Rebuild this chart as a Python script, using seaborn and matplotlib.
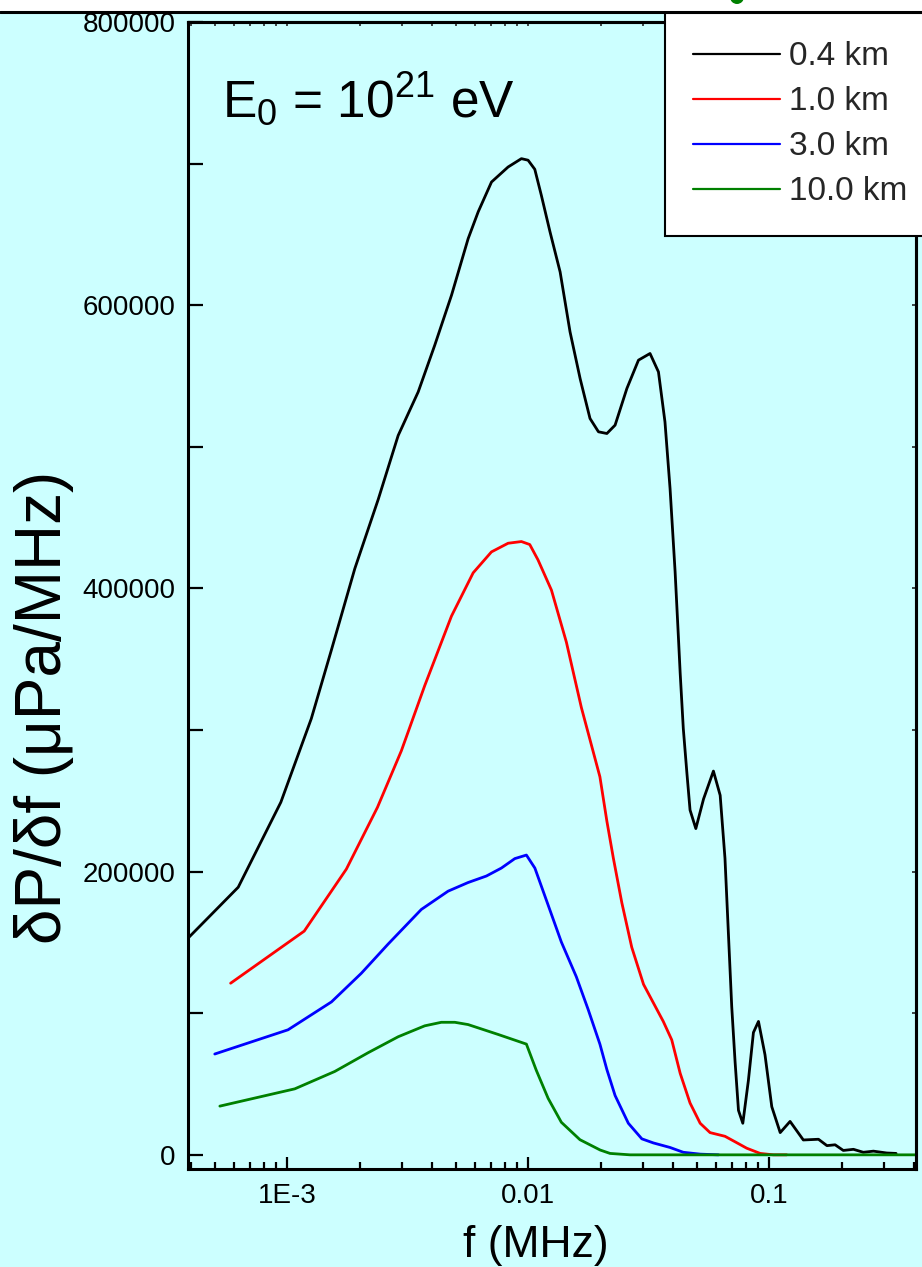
import numpy as np
import pandas as pd
import seaborn as sns
import matplotlib.pyplot as plt
from matplotlib.patches import Rectangle, Ellipse
from matplotlib.lines import Line2D
from matplotlib.ticker import FixedLocator, FixedFormatter, MultipleLocator, NullFormatter

# 0.4 km
f_04 = [3.88e-4, 6.27e-4, 9.42e-4, 1.26e-3, 1.53e-3, 1.91e-3, 2.39e-3, 2.89e-3, 3.50e-3,
        4.10e-3, 4.81e-3, 5.64e-3, 6.21e-3, 7.05e-3, 8.26e-3, 9.38e-3, 0.0100, 0.01066,
        0.01135, 0.01233, 0.01358, 0.01493, 0.01644, 0.01807, 0.01959, 0.02123, 0.02296,
        0.02570, 0.02871, 0.03206, 0.03475, 0.03698, 0.03882, 0.04074, 0.04207, 0.04276,
        0.04406, 0.04560, 0.04699, 0.04966, 0.05346, 0.05875, 0.06266, 0.06561, 0.06776,
        0.06998, 0.07228, 0.07464, 0.07780, 0.08204, 0.08610, 0.09036, 0.09616, 0.1026,
        0.1112, 0.1222, 0.1387, 0.1603, 0.1738, 0.1879, 0.2032, 0.2239, 0.2460, 0.2710,
        0.3076, 0.3365]
p_04 = [153000, 189000, 249000, 308000, 357000, 414000, 463000, 508000, 538800,
        571800, 607000, 647000, 666000, 687000, 697600, 703500, 702400, 696000,
        677600, 651800, 623500, 581200, 548200, 520000, 510600, 509400, 515300,
        541200, 561200, 565900, 552900, 517600, 470600, 411800, 364700, 340300,
        301000, 269600, 243500, 230400, 251300, 271000, 253900, 209400, 157100,
        104700, 65400, 31400, 22300, 52400, 86400, 94200, 70700, 34000,
        15700, 23600, 10500, 11000, 6500, 7100, 3100, 3900, 1800, 2600,
        1300, 1000]

# 1.0 km
f_10 = [5.83e-4, 1.178e-3, 1.762e-3, 2.371e-3, 2.979e-3, 3.724e-3, 4.808e-3, 5.916e-3,
        7.047e-3, 8.26e-3, 9.38e-3, 0.01016, 0.01099, 0.01250, 0.01442, 0.01663, 0.01986,
        0.02123, 0.02259, 0.02449, 0.02692, 0.03013, 0.03311, 0.03639, 0.03945, 0.04276,
        0.04699, 0.05176, 0.05689, 0.06561, 0.07228, 0.08072, 0.09183, 0.1042, 0.1183]
p_10 = [121200, 158000, 201800, 245400, 285300, 331300, 380400, 411000,
        425800, 431900, 433100, 431000, 420200, 398800, 362000, 316000, 267000,
        235600, 209400, 178000, 146600, 120400, 107300, 94200, 81200, 57600,
        36600, 22300, 15700, 13100, 9200, 4700, 1000, 0, 0]

# 3.0 km
f_30 = [5.01e-4, 1.009e-3, 1.528e-3, 2.032e-3, 2.624e-3, 3.606e-3, 4.656e-3, 5.636e-3,
        6.714e-3, 7.745e-3, 8.81e-3, 9.84e-3, 0.01067, 0.01211, 0.01374, 0.01585, 0.01774,
        0.01986, 0.02123, 0.02296, 0.02606, 0.02965, 0.03311, 0.03882, 0.04406, 0.05176, 0.06166]
p_30 = [71200, 88300, 108000, 128200, 148800, 173300, 186200, 192300,
        196900, 202500, 209200, 211700, 202500, 176400, 150300, 125800, 102800,
        78200, 60200, 41900, 22300, 11300, 8400, 5200, 1800, 500, 0]

# 10.0 km
f_100 = [5.26e-4, 1.076e-3, 1.578e-3, 2.168e-3, 2.891e-3, 3.724e-3, 4.365e-3, 4.966e-3,
         5.636e-3, 7.516e-3, 9.84e-3, 0.01081, 0.01211, 0.01374, 0.01641, 0.01991, 0.02188,
         0.02649, 0.41]
p_100 = [34400, 46600, 58900, 72100, 83400, 91100, 93600, 93600,
         92000, 85000, 78200, 59800, 39900, 23000, 10700, 3400, 1000,
         0, 0]

series = ['0.4 km', '1.0 km', '3.0 km', '10.0 km']
colors = ['black', 'red', 'blue', 'green']

x_ticks = [1e-3, 1e-2, 1e-1]
x_labels = ['1E-3', '0.01', '0.1']
y_ticks = [0, 200000, 400000, 600000, 800000]

df = pd.concat([
    pd.DataFrame({'f': f, 'p': p, 'series': s})
    for f, p, s in zip([f_04, f_10, f_30, f_100], [p_04, p_10, p_30, p_100], series)
])

sns.set_theme(style='ticks')
plt.rcParams['font.family'] = ['Liberation Sans', 'DejaVu Sans']
plt.rcParams['mathtext.default'] = 'regular'

bg = '#ccffff'
fig = plt.figure(figsize=(9.22, 12.67), dpi=100, facecolor=bg)
ax = fig.add_axes([188/922, 1-1169/1267, 728/922, 1147/1267])
ax.set_facecolor(bg)

sns.lineplot(data=df, x='f', y='p', hue='series', hue_order=series, palette=colors,
             estimator=None, sort=False, linewidth=2.0, legend=False, ax=ax)

ax.set_xscale('log')
ax.set_xlim(3.88e-4, 0.407)
ax.set_ylim(-10000, 800000)

ax.xaxis.set_major_locator(FixedLocator(x_ticks))
ax.xaxis.set_major_formatter(FixedFormatter(x_labels))
ax.xaxis.set_minor_formatter(NullFormatter())
ax.yaxis.set_major_locator(FixedLocator(y_ticks))
ax.yaxis.set_minor_locator(MultipleLocator(100000))
ax.set_yticklabels([str(v) for v in y_ticks])

ax.tick_params(axis='x', which='major', direction='in', length=9, width=1.6,
               labelsize=20, pad=10, colors='black')
ax.tick_params(axis='x', which='minor', direction='in', length=5, width=1.6, colors='black')
ax.tick_params(axis='y', which='both', direction='in', length=10.5, width=1.6,
               labelsize=20, pad=9, colors='black')

for sp in ax.spines.values():
    sp.set_visible(True)
    sp.set_linewidth(2.2)
    sp.set_color('black')

# small mirrored ticks on top and right
top = ax.secondary_xaxis('top')
top.xaxis.set_major_locator(FixedLocator(x_ticks))
top.tick_params(which='both', direction='in', length=3, width=1.2, labeltop=False)
top.spines['top'].set_linewidth(2.2)
right = ax.secondary_yaxis('right')
right.yaxis.set_major_locator(MultipleLocator(100000))
right.tick_params(which='both', direction='in', length=3, width=1.2, labelright=False)
right.spines['right'].set_linewidth(2.2)

ax.set_xlabel('f (MHz)', fontsize=32, color='black')
ax.xaxis.set_label_coords((536-188)/728, (1169-1225)/1147)
ax.set_ylabel('δP/δf (μPa/MHz)', fontsize=46, color='black')
ax.yaxis.set_label_coords((74-188)/728, (1169-707)/1147)

ax.text((222-188)/728, (1169-118)/1147, 'E$_0$ = 10$^{21}$ eV', transform=ax.transAxes,
        fontsize=37, ha='left', va='baseline', color='black')

handles = [Line2D([], [], color=c, lw=1.6) for c in colors]
leg = fig.legend(handles, series, loc='upper left', bbox_to_anchor=(665/922, 1-13/1267),
                 bbox_transform=fig.transFigure, borderaxespad=0, fontsize=24,
                 handlelength=2.6, handletextpad=0.27, labelspacing=0.42,
                 borderpad=0.85, fancybox=False, framealpha=1, edgecolor='black',
                 facecolor='white')
leg.get_frame().set_linewidth(1.5)

# white strip of the slide above the chart
fig.patches.append(Rectangle((0, 1-11/1267), 1, 11/1267, transform=fig.transFigure,
                             facecolor='white', edgecolor='none', zorder=0))
fig.lines.append(Line2D([0, 1], [1-11.5/1267, 1-11.5/1267], transform=fig.transFigure,
                        color='black', lw=2.2))
fig.patches.append(Ellipse((737/922, 1+3/1267), 14/922, 14/1267, transform=fig.transFigure,
                           facecolor='green', edgecolor='none'))

fig.savefig('out.png', dpi=100, facecolor=bg)
